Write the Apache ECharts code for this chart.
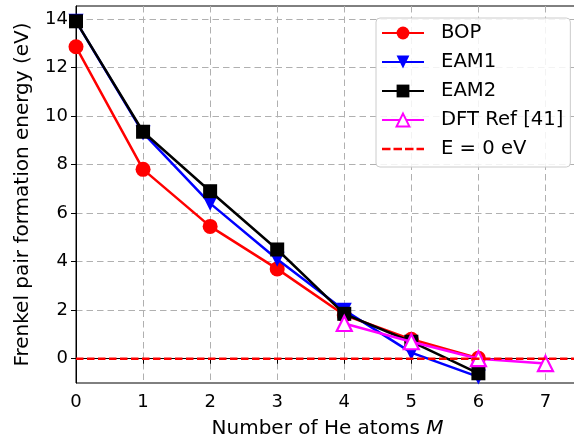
<!DOCTYPE html>
<html>
<head>
<meta charset="utf-8">
<script src="https://cdn.jsdelivr.net/npm/echarts@6/dist/echarts.min.js"></script>
<style>html,body{margin:0;padding:0;background:#fff}#c{width:574px;height:441px}</style>
</head>
<body>
<div id="c"></div>
<script>
const heCounts = [0, 1, 2, 3, 4, 5, 6];
const bop = [12.85, 7.8, 5.45, 3.7, 1.8, 0.8, 0.02];
const eam1 = [13.9, 9.3, 6.4, 4.1, 2.0, 0.25, -0.75];
const eam2 = [13.9, 9.35, 6.9, 4.5, 1.85, 0.7, -0.6];
const dftCounts = [4, 5, 6, 7];
const dft = [1.45, 0.7, 0.0, -0.2];
const zeroX = [0, 7.5];
const zeroY = [0, 0];
const yTicks = [0, 2, 4, 6, 8, 10, 12, 14];
const xTicks = [0, 1, 2, 3, 4, 5, 6, 7];

const pair = (xs, ys) => xs.map((x, i) => [x, ys[i]]);
const font = 'DejaVu Sans';
const gridLine = { show: true, lineStyle: { color: '#b0b0b0', type: [6.5, 4], width: 1 } };
const dashIcon = 'path://M0,0h0.05v0.05h-0.05z M42,16h-0.05v-0.05h0.05z ' +
  'M0,6.75h8.5v2.5h-8.5z M11.5,6.75h8.5v2.5h-8.5z M23,6.75h8.5v2.5h-8.5z M34.5,6.75h7.5v2.5h-7.5z';

const chart = echarts.init(document.getElementById('c'), null, { renderer: 'canvas' });
chart.setOption({
  animation: false,
  backgroundColor: '#fff',
  textStyle: { fontFamily: font },
  grid: { left: 76, top: 6, width: 503, height: 377, show: true, borderColor: '#000', borderWidth: 1,
    backgroundColor: 'transparent', outerBoundsMode: 'none', containLabel: false },
  xAxis: {
    type: 'value', min: 0, max: 7.5, interval: 1,
    name: 'Number of He atoms {i|M}', nameLocation: 'middle', nameGap: 36,
    nameTextStyle: { fontFamily: font, fontSize: 20, color: '#000', rich: { i: { fontFamily: font, fontSize: 20, fontStyle: 'italic', color: '#000' } } },
    axisLine: { lineStyle: { color: '#000', width: 1 } },
    axisTick: { show: true, inside: false, length: 5, lineStyle: { color: '#000' }, customValues: xTicks },
    axisLabel: { customValues: xTicks, fontSize: 18, color: '#000', margin: 10, fontFamily: font },
    splitLine: gridLine
  },
  yAxis: {
    type: 'value', min: -1, max: 14.53,
    name: 'Frenkel pair formation energy (eV)', nameLocation: 'middle', nameGap: 43,
    nameTextStyle: { fontFamily: font, fontSize: 20, color: '#000' },
    axisLine: { show: true, lineStyle: { color: '#000', width: 1 } },
    axisTick: { show: true, inside: false, length: 5, lineStyle: { color: '#000' }, customValues: yTicks },
    axisLabel: { customValues: yTicks, fontSize: 18, color: '#000', margin: 8, fontFamily: font },
    splitLine: gridLine
  },
  legend: {
    left: 376, top: 18, orient: 'vertical',
    itemWidth: 42, itemHeight: 16, itemGap: 9,
    padding: [5, 7, 8, 5],
    backgroundColor: 'rgba(255,255,255,0.85)', borderColor: '#cccccc', borderWidth: 1, borderRadius: 4,
    textStyle: { fontSize: 19.6, color: '#000', fontFamily: font, padding: [0, 0, 0, 12] },
    data: ['BOP', 'EAM1', 'EAM2', 'DFT Ref [41]', { name: 'E = 0 eV', icon: dashIcon, itemStyle: { color: '#ff0000' } }]
  },
  series: [
    { name: 'BOP', type: 'line', data: pair(heCounts, bop), symbol: 'circle', symbolSize: 15,
      lineStyle: { color: '#ff0000', width: 2.5 }, itemStyle: { color: '#ff0000' }, z: 2 },
    { name: 'EAM1', type: 'line', data: pair(heCounts, eam1), symbol: 'triangle', symbolRotate: 180, symbolSize: 15,
      lineStyle: { color: '#0000ff', width: 2.5 }, itemStyle: { color: '#0000ff' }, z: 3 },
    { name: 'EAM2', type: 'line', data: pair(heCounts, eam2), symbol: 'rect', symbolSize: 14,
      lineStyle: { color: '#000000', width: 2.5 }, itemStyle: { color: '#000000' }, z: 4 },
    { name: 'DFT Ref [41]', type: 'line', data: pair(dftCounts, dft), symbol: 'triangle', symbolSize: 15,
      lineStyle: { color: '#ff00ff', width: 2.5 }, itemStyle: { color: '#ffffff', borderColor: '#ff00ff', borderWidth: 2.2 }, z: 5 },
    { name: 'E = 0 eV', type: 'line', data: pair(zeroX, zeroY), symbol: 'none', showSymbol: false,
      lineStyle: { color: '#ff0000', width: 2.5, type: [7.5, 3.5] }, itemStyle: { color: '#ff0000' }, z: 6 }
  ]
});
</script>
</body>
</html>
